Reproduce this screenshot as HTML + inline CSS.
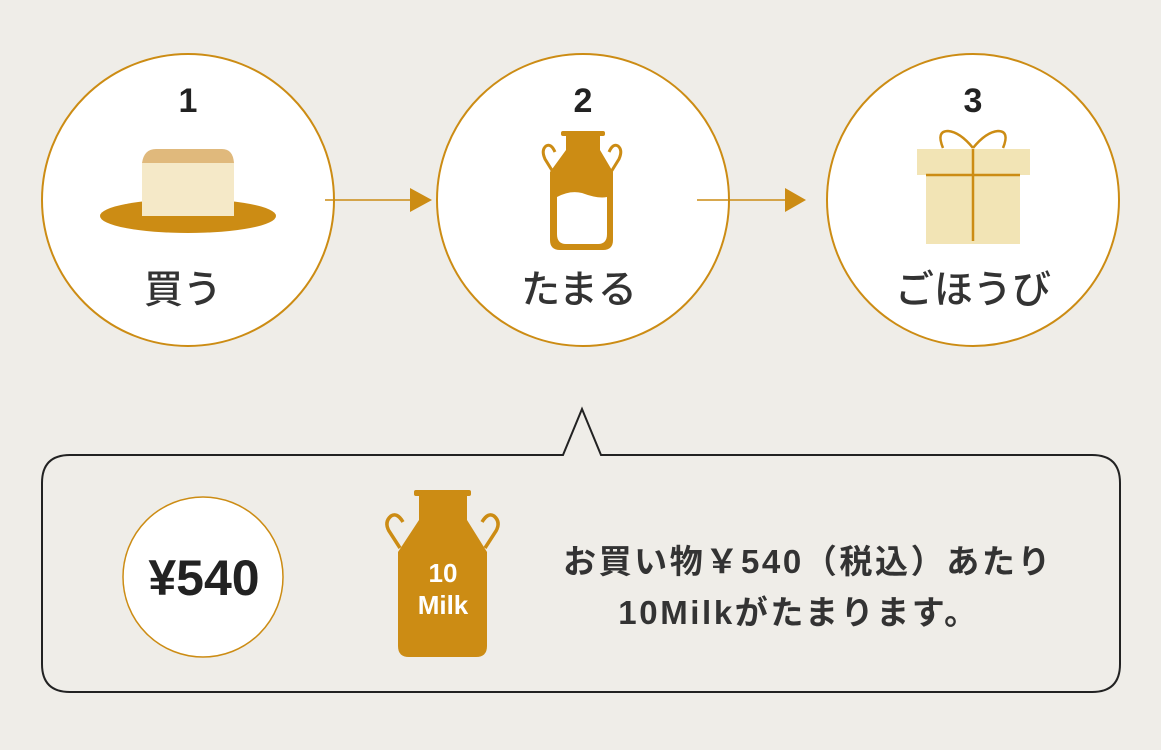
<!DOCTYPE html>
<html><head><meta charset="utf-8"><style>
html,body{margin:0;padding:0;background:#efede8;}
svg{display:block}
text{font-family:"Liberation Sans","Noto Sans CJK JP",sans-serif;}
</style></head><body>
<svg width="1161" height="750" viewBox="0 0 1161 750" xmlns="http://www.w3.org/2000/svg">
<rect width="1161" height="750" fill="#efede8"/>
<g fill="#fff" stroke="#cc8c14" stroke-width="2">
<circle cx="188" cy="200" r="146"/>
<circle cx="583" cy="200" r="146"/>
<circle cx="973" cy="200" r="146"/>
</g>
<g stroke="#cc8c14" stroke-width="1.5"><line x1="325" y1="200" x2="412" y2="200"/><line x1="697" y1="200" x2="787" y2="200"/><line x1="278" y1="576" x2="342" y2="576"/></g>
<g fill="#cc8c14"><polygon points="410,188 432,200 410,212"/><polygon points="785,188 806,200 785,212"/><polygon points="340,563 363,576 340,589"/></g>
<g font-weight="bold" font-size="34" fill="#222" text-anchor="middle">
<text x="188" y="112">1</text><text x="583" y="112">2</text><text x="973" y="112">3</text></g>
<g font-size="39" fill="#333" text-anchor="middle" font-weight="500">
<text x="183" y="303">買う</text><text x="579" y="303">たまる</text><text x="973" y="303">ごほうび</text></g>
<ellipse cx="188" cy="216" rx="88" ry="17" fill="#cc8c14"/>
<path d="M142,163 Q144,149 156,149 L222,149 Q233,149 234,163 Z" fill="#e0b97c"/>
<rect x="142" y="163" width="92" height="53" fill="#f5e9c8"/>
<g fill="#cc8c14">
<rect x="561" y="131" width="44" height="5" rx="2"/>
<path d="M566,134 H600 V150 L613,172 V240 Q613,250 603,250 H560 Q550,250 550,240 V172 L566,150 Z"/>
</g>
<path d="M557,197 Q570,190 582,193 Q598,199 607,197 V234 Q607,244 598,244 H566 Q557,244 557,234 Z" fill="#fff"/>
<g fill="none" stroke="#cc8c14" stroke-width="3">
<path d="M553,172 L545,159 Q541,150 546,146 Q551,143 555,152"/>
<path d="M611,172 L619,159 Q623,150 618,146 Q613,143 609,152"/>
</g>
<rect x="917" y="149" width="113" height="26" fill="#f2e4b5"/>
<rect x="926" y="174" width="94" height="70" fill="#f2e4b5"/>
<g stroke="#cc8c14" stroke-width="2.5" fill="none">
<line x1="973" y1="149" x2="973" y2="241"/>
<line x1="926" y1="175" x2="1020" y2="175"/>
<path d="M973,148 Q960,132 948,131 Q936,131 943,148"/>
<path d="M973,148 Q986,132 998,131 Q1010,131 1003,148"/>
</g>
<path d="M70,455 H563 L582,409 L601,455 H1092 Q1120,455 1120,483 V664 Q1120,692 1092,692 H70 Q42,692 42,664 V483 Q42,455 70,455 Z" fill="#efede8" stroke="#222" stroke-width="2"/>
<circle cx="203" cy="577" r="80" fill="#fff" stroke="#cc8c14" stroke-width="1.5"/>
<text x="204" y="595" font-size="50" font-weight="bold" fill="#222" text-anchor="middle">¥540</text>
<g fill="#cc8c14">
<rect x="414" y="490" width="57" height="6" rx="2"/>
<path d="M419,494 H467 V520 L487,552 V646 Q487,657 476,657 H409 Q398,657 398,646 V552 L419,520 Z"/>
</g>
<g fill="none" stroke="#cc8c14" stroke-width="3.5">
<path d="M400,548 L389,531 Q384,522 391,516 Q397,512 403,522"/>
<path d="M485,548 L496,531 Q501,522 494,516 Q488,512 482,522"/>
</g>
<g font-weight="bold" fill="#fff" text-anchor="middle"><text x="443" y="582" font-size="26">10</text><text x="443" y="614" font-size="26">Milk</text></g>
<g font-size="33" font-weight="bold" fill="#333" text-anchor="middle" letter-spacing="2.6">
<text x="808" y="573">お買い物￥540（税込）あたり</text>
<text x="799" y="624">10Milkがたまります。</text></g>
</svg>
</body></html>
